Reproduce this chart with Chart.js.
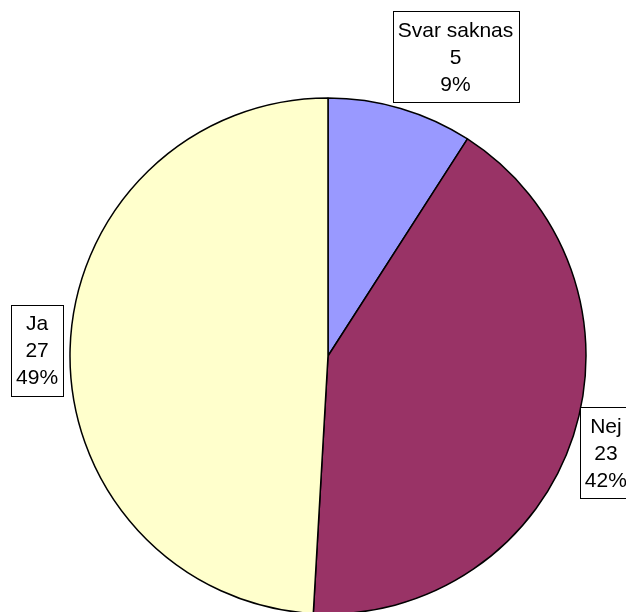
<!DOCTYPE html>
<html>
<head>
<meta charset="utf-8">
<script src="https://cdn.jsdelivr.net/npm/chart.js@4/dist/chart.umd.min.js"></script>
<style>
html,body{margin:0;padding:0;background:#fff;overflow:hidden;}
#wrap{width:626px;height:612px;position:relative;}
</style>
</head>
<body>
<div id="wrap"><canvas id="c" width="626" height="612"></canvas></div>
<script>
const categories = ["Svar saknas", "Nej", "Ja"];
const counts = [5, 23, 27];
const percentLabels = ["9%", "42%", "49%"];
const sliceColors = ["#9999FF", "#993366", "#FFFFCC"];

// label box placement relative to the slice's outer mid-point (layout only)
const labelNudge = [[52, -42], [23, 14], [-23, 2]];

const boxLabels = {
  id: 'boxLabels',
  afterDraw(chart) {
    const ctx = chart.ctx;
    const meta = chart.getDatasetMeta(0);
    const fontSize = 21, lineH = 27, padX = 5, padY = 5;
    ctx.save();
    ctx.font = fontSize + 'px "Liberation Sans", Arial, sans-serif';
    ctx.textAlign = 'center';
    ctx.textBaseline = 'middle';
    meta.data.forEach((arc, i) => {
      const p = arc.getProps(['x', 'y', 'startAngle', 'endAngle', 'outerRadius'], true);
      const mid = (p.startAngle + p.endAngle) / 2;
      const r = p.outerRadius + 10;
      const ax = p.x + Math.cos(mid) * r;
      const ay = p.y + Math.sin(mid) * r;
      const cx = ax + labelNudge[i][0];
      const cy = ay + labelNudge[i][1];
      const lines = [categories[i], String(counts[i]), percentLabels[i]];
      const w = Math.max(...lines.map(t => ctx.measureText(t).width)) + padX * 2;
      const h = lines.length * lineH + padY * 2;
      const bx = Math.round(cx - w / 2) + 0.5, by = Math.round(cy - h / 2) + 0.5;
      ctx.fillStyle = '#fff';
      ctx.fillRect(bx, by, Math.round(w), Math.round(h));
      ctx.strokeStyle = '#000';
      ctx.lineWidth = 1;
      ctx.strokeRect(bx, by, Math.round(w), Math.round(h));
      ctx.fillStyle = '#000';
      lines.forEach((t, k) => {
        ctx.fillText(t, cx, cy - h / 2 + padY + lineH * (k + 0.5) + 1);
      });
    });
    ctx.restore();
  }
};

new Chart(document.getElementById('c'), {
  type: 'pie',
  data: {
    labels: categories,
    datasets: [{
      data: counts,
      backgroundColor: sliceColors,
      borderColor: '#000',
      borderWidth: 1.5,
      radius: 258
    }]
  },
  options: {
    responsive: false,
    animation: false,
    layout: { padding: { left: 70, right: 40, top: 100, bottom: 0 } },
    plugins: { legend: { display: false }, tooltip: { enabled: false } }
  },
  plugins: [boxLabels]
});
</script>
</body>
</html>
